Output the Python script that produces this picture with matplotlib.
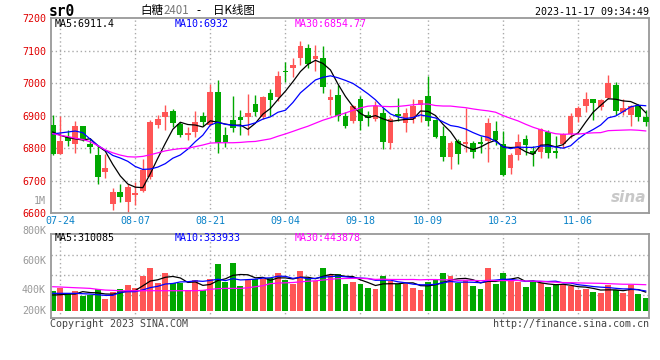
import numpy as np
import pandas as pd
import matplotlib
matplotlib.use('Agg')
import matplotlib.pyplot as plt

plt.rcParams['font.family'] = ['DejaVu Sans Mono', 'Noto Sans CJK SC']

# 日K数据 (07-21 ~ 11-17)
opens = [6872, 6783, 6836, 6813, 6867, 6812, 6779, 6728, 6629, 6664,
         6636, 6657, 6669, 6712, 6873, 6896, 6916, 6876, 6842, 6850,
         6898, 6872, 6974, 6840, 6886, 6895, 6896, 6935, 6896, 6970,
         6957, 7039, 7046, 7077, 7108, 7074, 7079, 6949, 6965, 6898,
         6883, 6950, 6901, 6891, 6909, 6816, 6906, 6879, 6891, 6934,
         6960, 6886, 6837, 6773, 6821, 6812, 6815, 6819, 6823, 6852,
         6812, 6738, 6779, 6828, 6792, 6787, 6850, 6792, 6813, 6843,
         6896, 6930, 6950, 6927, 6954, 6996, 6911, 6903, 6934, 6896]
highs = [6901, 6898, 6855, 6885, 6870, 6828, 6807, 6781, 6677, 6689,
         6690, 6697, 6766, 6888, 6901, 6934, 6921, 6881, 6864, 6916,
         6910, 6998, 7011, 6865, 6960, 6919, 6967, 6964, 6962, 6981,
         7039, 7064, 7077, 7131, 7120, 7117, 7113, 6981, 6996, 6911,
         6934, 6960, 6916, 6944, 6923, 6896, 6956, 6923, 6950, 6947,
         7021, 6891, 6867, 6821, 6830, 6924, 6821, 6838, 6894, 6885,
         6853, 6786, 6845, 6840, 6807, 6863, 6855, 6838, 6848, 6908,
         6929, 6974, 6950, 6952, 7026, 7005, 6952, 6934, 6937, 6919]
lows = [6779, 6781, 6807, 6785, 6823, 6784, 6689, 6709, 6610, 6634,
        6602, 6626, 6666, 6707, 6862, 6855, 6865, 6835, 6824, 6835,
        6870, 6868, 6786, 6804, 6850, 6842, 6840, 6898, 6889, 6899,
        6944, 7005, 7018, 7056, 7046, 7039, 6970, 6903, 6883, 6862,
        6879, 6855, 6867, 6883, 6799, 6799, 6883, 6850, 6878, 6881,
        6868, 6832, 6760, 6736, 6753, 6789, 6770, 6786, 6758, 6809,
        6714, 6722, 6763, 6779, 6746, 6770, 6770, 6770, 6801, 6833,
        6881, 6913, 6886, 6919, 6952, 6903, 6901, 6868, 6883, 6867]
closes = [6783, 6823, 6821, 6870, 6829, 6805, 6712, 6740, 6666, 6651,
          6682, 6663, 6732, 6881, 6889, 6911, 6879, 6840, 6846, 6881,
          6881, 6974, 6817, 6819, 6862, 6886, 6907, 6911, 6959, 6949,
          7023, 7036, 7057, 7115, 7059, 7085, 6988, 6957, 6899, 6868,
          6929, 6883, 6893, 6929, 6819, 6889, 6899, 6908, 6930, 6947,
          6883, 6835, 6773, 6816, 6782, 6819, 6789, 6813, 6878, 6824,
          6717, 6779, 6818, 6809, 6781, 6860, 6786, 6786, 6843, 6899,
          6923, 6950, 6940, 6947, 7001, 6916, 6924, 6930, 6896, 6881]
# 成交量 (千手)
volumes = [335, 385, 291, 335, 251, 257, 363, 196, 318, 363,
           430, 385, 587, 721, 469, 637, 458, 458, 346, 514,
           346, 536, 788, 486, 804, 419, 514, 531, 525, 553,
           626, 514, 441, 670, 553, 497, 721, 598, 615, 447,
           480, 447, 374, 363, 581, 497, 441, 441, 374, 346,
           480, 531, 626, 581, 458, 514, 413, 363, 715, 447,
           626, 497, 486, 397, 492, 469, 397, 425, 430, 413,
           346, 363, 318, 291, 430, 341, 296, 425, 279, 218]

# 区间开始前的均线值
ma5_head = [6850, 6840, 6833, 6829]
ma10_head = [6844, 6847, 6850, 6853, 6848, 6828, 6809, 6794, 6778]
ma30_head = [6845, 6840, 6836, 6831, 6827, 6820, 6808, 6795, 6786, 6779,
             6774, 6773, 6775, 6780, 6786, 6792, 6796, 6799, 6800, 6805,
             6810, 6816, 6817, 6817, 6817, 6818, 6820, 6821, 6825]
vma5_head = [263, 268, 279, 279]
vma10_head = [291, 291, 291, 291, 285, 279, 268, 257, 257]
vma30_head = [402, 397, 391, 385, 380, 374, 358, 346, 341, 335,
              335, 335, 335, 335, 335, 335, 335, 335, 335, 335,
              341, 358, 369, 374, 374, 374, 385, 402, 419]

tick_idx = [1, 11, 21, 31, 41, 50, 60, 70]
tick_labels = ['07-24', '08-07', '08-21', '09-04', '09-18', '10-09', '10-23', '11-06']

RED = '#FF5555'
GREEN = '#00A800'
GRID = '#AAAAAA'
FRAME = '#999999'


def moving_avg(values, n, head):
    m = pd.Series(values, dtype=float).rolling(n).mean().to_numpy()
    m[:len(head)] = head
    return m


def px(x, y):
    return x / 660, 1 - y / 360


opens = np.array(opens)
closes = np.array(closes)
x = np.arange(len(closes))
colors = np.where(closes >= opens, RED, GREEN)

fig = plt.figure(figsize=(6.6, 3.6), dpi=100)
fig.patch.set_facecolor('white')
ax = fig.add_axes([50.7 / 660, 1 - 213.3 / 360, 598.3 / 660, 195.1 / 360])
axv = fig.add_axes([50.7 / 660, 1 - 317.7 / 360, 598.3 / 660, 83.4 / 360])

xlim = (-0.27, 79.44)

# ---- K线 ----
ax.set_xlim(*xlim)
ax.set_ylim(6600, 7200)
for yv in [6700, 6800, 6900, 7000, 7100]:
    ax.axhline(yv, color=GRID, lw=1, ls=(0, (1, 2)), zorder=0)
for t in tick_idx:
    ax.axvline(t, color=GRID, lw=1, ls=(0, (1, 2)), zorder=0)
    axv.axvline(t, color=GRID, lw=1, ls=(0, (1, 2)), zorder=0)

ax.vlines(x, lows, highs, colors=colors, lw=1, zorder=2)
body_lo = np.minimum(opens, closes)
body_h = np.maximum(np.abs(closes - opens), 3)
ax.bar(x, body_h, bottom=body_lo, width=0.76, color=colors, lw=0, zorder=3)

ax.plot(x, moving_avg(closes, 5, ma5_head), color='black', lw=0.9, zorder=4)
ax.plot(x, moving_avg(closes, 10, ma10_head), color='#0000FF', lw=0.9, zorder=4)
ax.plot(x, moving_avg(closes, 30, ma30_head), color='#FF00FF', lw=0.9, zorder=4)

ax.set_yticks([6600, 6700, 6800, 6900, 7000, 7100, 7200])
ax.tick_params(axis='y', length=0, pad=3.4, labelcolor='#E00000', labelsize=7.2)
ax.set_xticks(tick_idx)
ax.set_xticklabels(tick_labels)
ax.tick_params(axis='x', length=0, pad=2.1, labelcolor='#0A82C8', labelsize=7.2)

ax.text(4 / 598.3, 1 - 6 / 195.1, 'MA5:6911.4', transform=ax.transAxes,
        color='black', fontsize=7.2, va='center')
ax.text(124.3 / 598.3, 1 - 6 / 195.1, 'MA10:6932', transform=ax.transAxes,
        color='#0000FF', fontsize=7.2, va='center')
ax.text(244.3 / 598.3, 1 - 6 / 195.1, 'MA30:6854.77', transform=ax.transAxes,
        color='#FF00FF', fontsize=7.2, va='center')
ax.text(0.995, 0.04, 'sina', transform=ax.transAxes, ha='right', va='bottom',
        color='#C8C8C8', fontsize=11, fontweight='bold', style='italic',
        family='DejaVu Sans', zorder=1)

# ---- 成交量 ----
axv.set_xlim(*xlim)
axv.set_ylim(-117, 1280)
for f in [0.27, 0.51, 0.75]:
    axv.axhline(-117 + f * (1280 + 117), color=GRID, lw=1, ls=(0, (1, 2)), zorder=0)
axv.bar(x, volumes, width=0.78, color=colors, lw=0, zorder=2)
axv.plot(x, moving_avg(volumes, 5, vma5_head), color='black', lw=0.9, zorder=3)
axv.plot(x, moving_avg(volumes, 10, vma10_head), color='#0000FF', lw=0.9, zorder=3)
axv.plot(x, moving_avg(volumes, 30, vma30_head), color='#FF00FF', lw=0.9, zorder=3)
axv.set_xticks([])
axv.set_yticks([])
axv.text(4 / 598.3, 1 - 4 / 83.4, 'MA5:310085', transform=axv.transAxes,
         color='black', fontsize=7.2, va='center')
axv.text(124.3 / 598.3, 1 - 4 / 83.4, 'MA10:333933', transform=axv.transAxes,
         color='#0000FF', fontsize=7.2, va='center')
axv.text(244.3 / 598.3, 1 - 4 / 83.4, 'MA30:443878', transform=axv.transAxes,
         color='#FF00FF', fontsize=7.2, va='center')

for a in (ax, axv):
    for s in a.spines.values():
        s.set_color(FRAME)
        s.set_linewidth(1.3)
    a.set_facecolor('white')

# 成交量刻度
for lab, yy in [('1M', 200.7), ('800K', 231), ('600K', 260.7), ('400K', 290), ('200K', 310.7)]:
    fig.text(*px(46, yy), lab, ha='right', va='center', color='#999999', fontsize=7.2)

# 标题等
fig.text(*px(49, 11.5), 'sr0', ha='left', va='center', fontsize=10.5,
         fontweight='bold', color='black')
fig.text(*px(140, 10.7), '白糖', ha='left', va='center', fontsize=8.3,
         family='Noto Sans CJK SC', color='black')
fig.text(*px(163.5, 10.7), '2401', ha='left', va='center', fontsize=8.3,
         family='Noto Sans CJK SC', color='#777777')
fig.text(*px(198.5, 10.7), '-', ha='center', va='center', fontsize=8.3,
         family='Noto Sans CJK SC', color='black')
fig.text(*px(213, 10.7), '日K线图', ha='left', va='center', fontsize=8.3,
         family='Noto Sans CJK SC', color='black')
fig.text(*px(649, 12.3), '2023-11-17 09:34:49', ha='right', va='center',
         fontsize=7.2, color='black')
fig.text(*px(50, 323.7), 'Copyright 2023 SINA.COM', ha='left', va='center',
         fontsize=7.2, color='#444444')
fig.text(*px(649, 323.7), 'http://finance.sina.com.cn', ha='right', va='center',
         fontsize=7.2, color='#444444')

fig.savefig('out.png', dpi=100, facecolor='white')
